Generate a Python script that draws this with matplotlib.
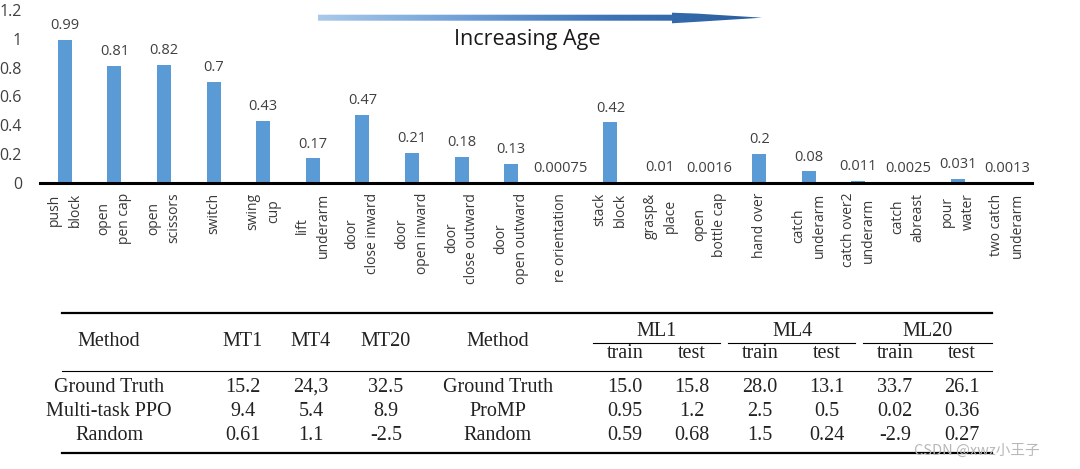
import numpy as np
import matplotlib
matplotlib.use('Agg')
import matplotlib.pyplot as plt
from matplotlib.colors import LinearSegmentedColormap
from matplotlib.patches import Polygon

# bar chart data
tasks = ["push\nblock", "open\npen cap", "open\nscissors", "switch", "swing\ncup",
         "lift\nunderarm", "door\nclose inward", "door\nopen inward", "door\nclose outward",
         "door\nopen outward", "re orientation", "stack\nblock", "grasp&\nplace",
         "open\nbottle cap", "hand over", "catch\nunderarm", "catch over2\nunderarm",
         "catch\nabreast", "pour\nwater", "two catch\nunderarm"]
success = [0.99, 0.81, 0.82, 0.7, 0.43, 0.17, 0.47, 0.21, 0.18, 0.13,
           0.00075, 0.42, 0.01, 0.0016, 0.2, 0.08, 0.011, 0.0025, 0.031, 0.0013]
yticks = [0, 0.2, 0.4, 0.6, 0.8, 1, 1.2]

# table data
mt_methods = ["Ground Truth", "Multi-task PPO", "Random"]
mt1 = ["15.2", "9.4", "0.61"]
mt4 = ["24,3", "5.4", "1.1"]
mt20 = ["32.5", "8.9", "-2.5"]
ml_methods = ["Ground Truth", "ProMP", "Random"]
ml1_train = ["15.0", "0.95", "0.59"]
ml1_test = ["15.8", "1.2", "0.68"]
ml4_train = ["28.0", "2.5", "1.5"]
ml4_test = ["13.1", "0.5", "0.24"]
ml20_train = ["33.7", "0.02", "-2.9"]
ml20_test = ["26.1", "0.36", "0.27"]

W, H = 1080, 469
fig = plt.figure(figsize=(W / 100, H / 100), dpi=100)
fig.patch.set_facecolor('white')

sans = 'Open Sans'
serif = 'Liberation Serif'

# --- bars ---
ax = fig.add_axes([40 / W, (H - 183) / H, (1032 - 40) / W, (183 - 10) / H])
x = np.arange(len(tasks))
ax.bar(x, success, width=0.28, color='#5b9bd5', zorder=2)
for xi, v in zip(x, success):
    ax.annotate(str(v), (xi, v), xytext=(0, 5), textcoords='offset points',
                ha='center', va='bottom', fontsize=10.5, color='#404040', family=sans)
ax.set_xlim(-0.5, len(tasks) - 0.5)
ax.set_ylim(0, 1.2)
ax.set_yticks(yticks)
ax.set_yticklabels([f"{t:g}" for t in yticks], fontsize=11.5, color='#404040', family=sans)
ax.set_xticks(x)
ax.set_xticklabels(tasks, rotation=90, fontsize=10, color='#383838', family=sans,
                   multialignment='center', linespacing=1.5)
ax.tick_params(axis='y', length=0, pad=13)
ax.tick_params(axis='x', length=0, pad=7)
for s in ['top', 'right', 'left']:
    ax.spines[s].set_visible(False)
ax.spines['bottom'].set_linewidth(2.2)
ax.spines['bottom'].set_color('black')
ax.spines['bottom'].set_zorder(3)
ax.set_facecolor('none')

# --- overlay in pixel units for arrow, title and table ---
ov = fig.add_axes([0, 0, 1, 1])
ov.axis('off')
ov.set_facecolor('none')

grad = LinearSegmentedColormap.from_list('g', ['#a9c9ea', '#6e9fd6', '#3b73b6', '#2a5d9c'])
gimg = ov.imshow(np.linspace(0, 1, 256).reshape(1, -1), cmap=grad, aspect='auto',
                 extent=(318, 762, 25, 11), zorder=1)
arrow = Polygon([(318, 14.7), (672, 14.7), (672, 12.7), (697, 13.6), (762, 17.7),
                 (697, 21.8), (672, 23.3), (672, 20.7), (318, 20.7)],
                closed=True, facecolor='none', edgecolor='none')
ov.add_patch(arrow)
gimg.set_clip_path(arrow)
ov.set_xlim(0, W)
ov.set_ylim(H, 0)

ov.text(527, 40, "Increasing Age", ha='center', va='center', fontsize=15.5,
        color='#1a1a1a', family=sans)

# table rules
tl, tr = 62, 992
ov.plot([tl, tr], [313, 313], color='black', lw=1.6)
ov.plot([tl, tr], [371, 371], color='black', lw=0.8)
ov.plot([tl, tr], [453, 453], color='black', lw=1.6)
for a, b in [(593, 720), (728, 855), (863, 992)]:
    ov.plot([a, b], [343, 343], color='black', lw=0.8)

tcol = '#222222'
fs = 14.5
for cx, lab in [(109, "Method"), (243, "MT1"), (311, "MT4"), (386, "MT20"), (498, "Method")]:
    ov.text(cx, 342, lab, ha='center', va='center', fontsize=fs, color=tcol, family=serif)
for cx, lab in [(657, "ML1"), (793, "ML4"), (928, "ML20")]:
    ov.text(cx, 331, lab, ha='center', va='center', fontsize=fs, color=tcol, family=serif)
sub_x = [625, 692, 760, 827, 895, 962]
for cx, lab in zip(sub_x, ["train", "test"] * 3):
    ov.text(cx, 354, lab, ha='center', va='center', fontsize=fs, color=tcol, family=serif)

row_y = [387, 411, 435]
cols = [(109, mt_methods), (243, mt1), (311, mt4), (386, mt20), (498, ml_methods),
        (625, ml1_train), (692, ml1_test), (760, ml4_train), (827, ml4_test),
        (895, ml20_train), (962, ml20_test)]
for cx, vals in cols:
    for ry, v in zip(row_y, vals):
        ov.text(cx, ry, v, ha='center', va='center', fontsize=fs, color=tcol, family=serif)

ov.text(977, 451, "CSDN @xwz小王子", ha='center', va='center', fontsize=10.5,
        color='#b8b8b8', family=['Noto Sans CJK SC', 'DejaVu Sans'], zorder=5)

fig.savefig('out.png', dpi=100)
